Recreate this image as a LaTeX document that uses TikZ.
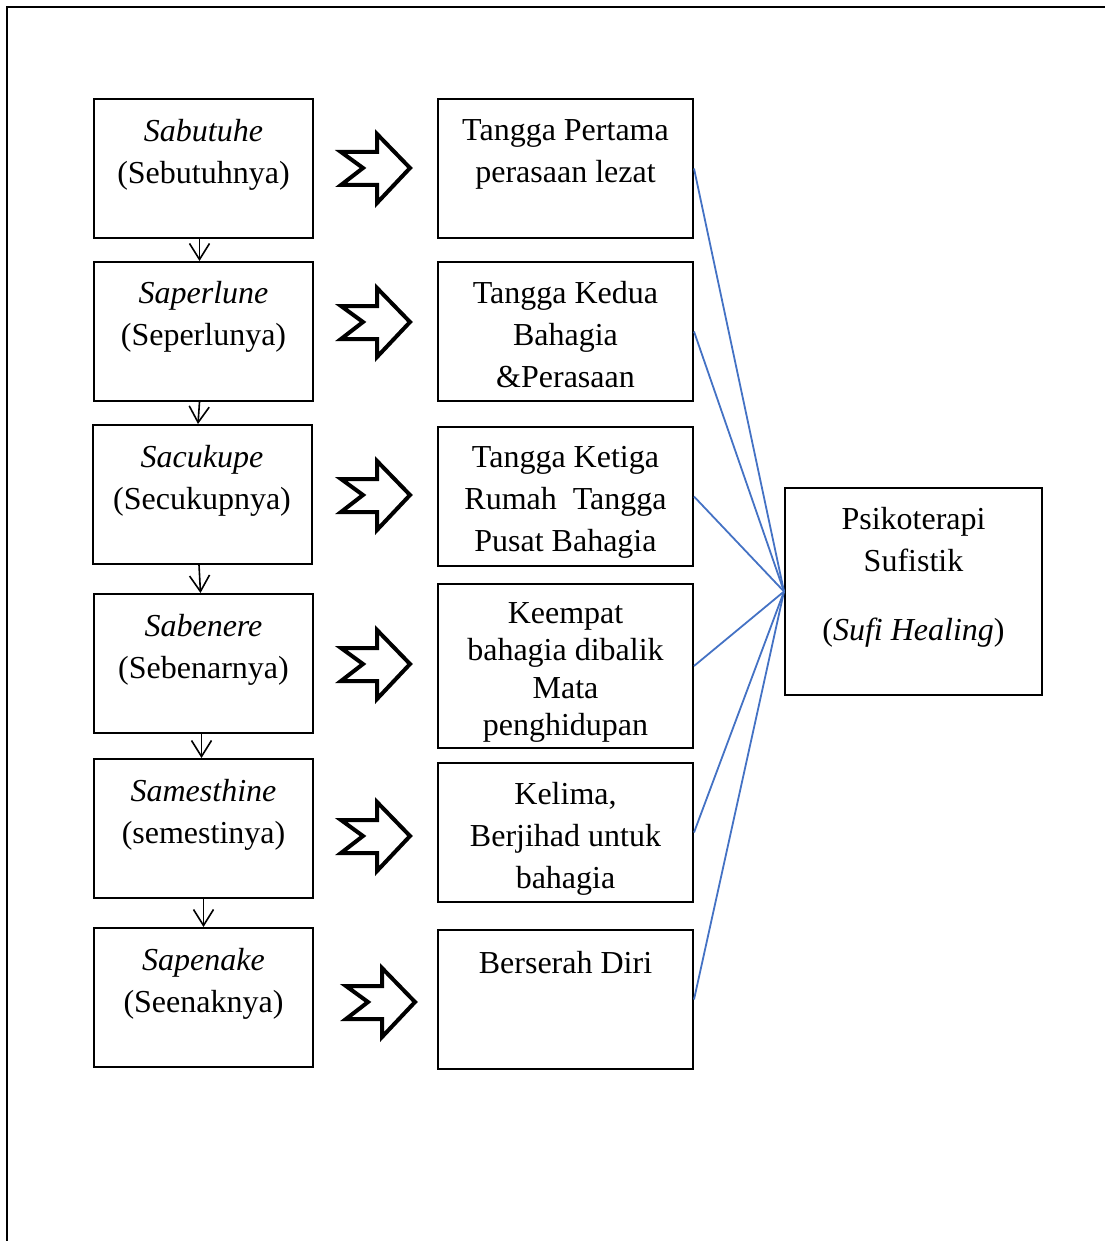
\documentclass[tikz,border=0pt]{standalone}
\usepackage{fontspec}
\setmainfont{Liberation Serif}
\usetikzlibrary{arrows.meta}
\definecolor{linkblue}{RGB}{68,114,196}

\tikzset{
  box/.style={draw, line width=1pt, inner sep=0pt},
  lbox/.style={box, minimum width=109.5pt, minimum height=69.5pt},
  mbox/.style={box, minimum width=127.5pt, minimum height=69.5pt},
  txt/.style={anchor=north, align=center, inner sep=0pt, font=\fontsize{16}{21}\selectfont,
    execute at begin node=\rule{0pt}{12pt}},
  down/.style={-{Straight Barb[length=8pt,width=10pt]}, line width=0.8pt},
  link/.style={linkblue, line width=0.9pt},
  hollow/.pic={\draw[line width=2pt, line join=miter]
    (0,-16) -- (36,-16) -- (36,-34) -- (69,0) -- (36,35) -- (36,17) -- (0,17) -- (22,0) -- cycle;}
}

\begin{document}
\begin{tikzpicture}[x=0.5pt,y=-0.5pt]
        \useasboundingbox (0,0) rectangle (1105,1241);
        \draw[line width=1.2pt] (7,1241) -- (7,7) -- (1105,7);

        % left column
        \node[lbox] (l1) at (203.5,168.5) {};
        \node[lbox] (l2) at (203.5,331.5) {};
        \node[lbox] (l3) at (202,494.5) {};
        \node[lbox] (l4) at (203.5,663.5) {};
        \node[lbox] (l5) at (203.5,828.5) {};
        \node[lbox] (l6) at (203.5,997.5) {};
        \node[txt] (lt1) at (203.5,119) {\textit{Sabutuhe}\\(Sebutuhnya)};
        \node[txt] (lt2) at (203.5,281) {\textit{Saperlune}\\(Seperlunya)};
        \node[txt] (lt3) at (202,445) {\textit{Sacukupe}\\(Secukupnya)};
        \node[txt] (lt4) at (203.5,614) {\textit{Sabenere}\\(Sebenarnya)};
        \node[txt] (lt5) at (203.5,779) {\textit{Samesthine}\\(semestinya)};
        \node[txt] (lt6) at (203.5,948) {\textit{Sapenake}\\(Seenaknya)};
        \draw[down] ([xshift=-2pt]l1.south) -- ([xshift=-2pt]l2.north);
        \draw[down] ([xshift=-2pt]l2.south) -- ([xshift=-2pt]l3.north);
        \draw[down] ([xshift=-1.5pt]l3.south) -- ([xshift=-1.5pt]l4.north);
        \draw[down] ([xshift=-1pt]l4.south) -- ([xshift=-1pt]l5.north);
        \draw[down] (l5.south) -- (l6.north);

        % middle column
        \node[mbox] (m1) at (565.5,168.5) {};
        \node[mbox] (m2) at (565.5,331.5) {};
        \node[mbox] (m3) at (565.5,496.5) {};
        \node[mbox, minimum height=82pt] (m4) at (565.5,666) {};
        \node[mbox] (m5) at (565.5,832.5) {};
        \node[mbox] (m6) at (565.5,999.5) {};
        \node[txt] (mt1) at (565.5,119) {Tangga Pertama\\perasaan lezat};
        \node[txt] (mt2) at (565.5,281) {Tangga Kedua\\Bahagia\\\&Perasaan};
        \node[txt] (mt3) at (565.5,446) {Tangga Ketiga\\Rumah\ \ Tangga\\Pusat Bahagia};
        \node[txt, font=\fontsize{16}{18.75}\selectfont] (mt4) at (565.5,602) {Keempat\\bahagia dibalik\\Mata\\penghidupan};
        \node[txt] (mt5) at (565.5,782) {Kelima,\\Berjihad untuk\\bahagia};
        \node[txt] (mt6) at (565.5,949) {Berserah Diri};

        % hollow arrows
        \pic at (341,168) {hollow};
        \pic at (341,322) {hollow};
        \pic at (341,495) {hollow};
        \pic at (341,664) {hollow};
        \pic at (341,836) {hollow};
        \pic at (346,1002) {hollow};

        % right box
        \node[box, minimum width=128.5pt, minimum height=103.5pt] (r) at (913.5,591.5) {};
        \node[txt] (rt) at (913.5,507) {Psikoterapi\\Sufistik\\[13.5pt](\textit{Sufi Healing})};
        \draw[link] (m1.east) -- (r.west);
        \draw[link] (m2.east) -- (r.west);
        \draw[link] (m3.east) -- (r.west);
        \draw[link] (m4.east) -- (r.west);
        \draw[link] (m5.east) -- (r.west);
        \draw[link] (m6.east) -- (r.west);
\end{tikzpicture}
\end{document}
